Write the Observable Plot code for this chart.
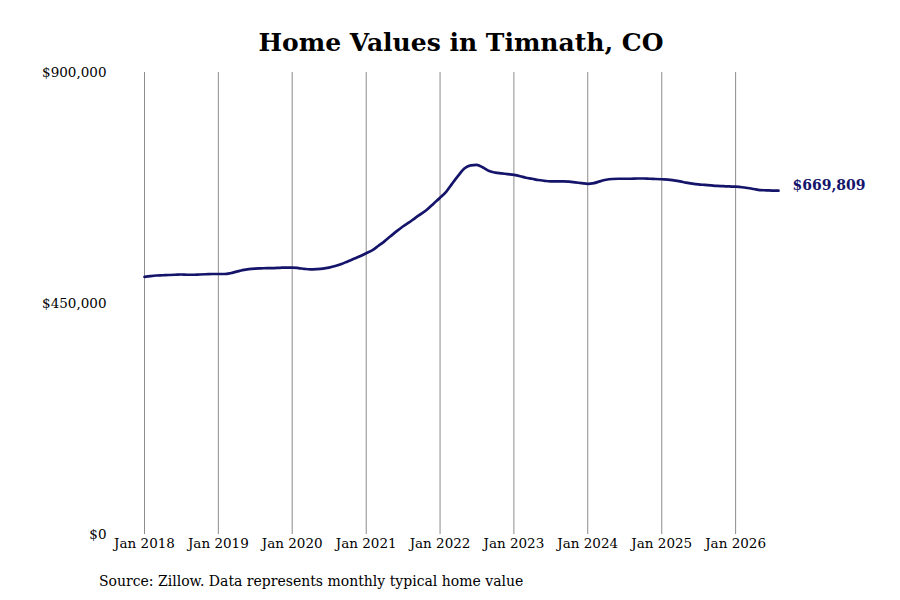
<!DOCTYPE html>
<html>
<head>
<meta charset="utf-8">
<script src="https://cdn.jsdelivr.net/npm/d3@7"></script>
<script src="https://cdn.jsdelivr.net/npm/@observablehq/plot@0.6"></script>
<style>
  body { margin: 0; background: #fff; font-family: "DejaVu Serif", serif; }
  #wrap { position: relative; width: 900px; height: 600px; }
  #title { position: absolute; top: 28px; left: 144px; width: 634px; text-align: center;
           font-weight: bold; font-size: 25px; line-height: 30px; color: #000; }
  #chart { position: absolute; top: 60px; left: 0; }
  #caption { position: absolute; top: 572px; left: 99px; font-size: 14px; line-height: 18px; color: #000; }
</style>
</head>
<body>
<div id="wrap">
  <div id="title">Home Values in Timnath, CO</div>
  <div id="chart"></div>
  <div id="caption">Source: Zillow. Data represents monthly typical home value</div>
</div>
<script>
const startYear = 2018;
const startMonth = 1;
const values = [
  // 2018
  502000, 503500, 504500, 505000, 505500, 506000, 506500, 506000, 506000, 506500, 507000, 507500,
  // 2019
  507500, 507500, 509000, 512000, 515000, 517000, 518000, 518500, 519000, 519000, 519500, 520000,
  // 2020
  520000, 519000, 517500, 516500, 517000, 518000, 520000, 523000, 527000, 532000, 537000, 542000,
  // 2021
  548000, 554000, 562000, 571000, 581000, 591000, 600000, 608000, 617000, 625000, 634000, 645000,
  // 2022
  656000, 668000, 683000, 699000, 713000, 719000, 720000, 715000, 708000, 705000, 703500, 702000,
  // 2023
  700500, 698000, 695000, 693000, 690500, 689000, 688000, 688000, 688000, 687500, 686000, 684500,
  // 2024
  683000, 684500, 688000, 691000, 692500, 693000, 693000, 693000, 693500, 693500, 693000, 692500,
  // 2025
  692000, 691500, 690000, 688000, 685500, 683500, 682000, 681000, 680000, 679000, 678500, 678000,
  // 2026
  677500, 676500, 675000, 673000, 671000, 670500, 670000, 669809
];
const yTicks = [0, 450000, 900000];
const tickYears = [2018, 2019, 2020, 2021, 2022, 2023, 2024, 2025, 2026];
const endLabel = "$669,809";

const data = values.map((v, i) => ({
  date: new Date(startYear, startMonth - 1 + i, 1),
  value: v
}));
const tickDates = tickYears.map(y => new Date(y, 0, 1));
const last = data[data.length - 1];

const fmtMoney = d => "$" + d3.format(",")(d);
const fmtMonth = d => "Jan " + d.getFullYear();

const navy = "#14146b";

const plot = Plot.plot({
  width: 900,
  height: 500,
  marginLeft: 144,
  marginRight: 122,
  marginTop: 12,
  marginBottom: 26,
  style: { fontFamily: "DejaVu Serif, serif", fontSize: "13.5px", color: "#000", background: "#fff" },
  x: { type: "time", domain: [data[0].date, last.date], label: null },
  y: { domain: [0, 900000], label: null },
  marks: [
    Plot.ruleX(tickDates, { stroke: "#8c8c8c", strokeWidth: 1 }),
    Plot.axisY({ ticks: yTicks, tickSize: 0, tickPadding: 38, tickFormat: fmtMoney, label: null, fontSize: "13.5px" }),
    Plot.axisX({ ticks: tickDates, tickSize: 0, tickPadding: 4, tickFormat: fmtMonth, label: null, fontSize: "13.5px" }),
    Plot.line(data, { x: "date", y: "value", stroke: navy, strokeWidth: 2.7, curve: "monotone-x" }),
    Plot.text([last], { x: "date", y: "value", text: () => endLabel, textAnchor: "start", dx: 14, dy: -5,
                         fill: navy, fontWeight: "bold", fontSize: "14px" })
  ]
});
document.getElementById("chart").appendChild(plot);
</script>
</body>
</html>
